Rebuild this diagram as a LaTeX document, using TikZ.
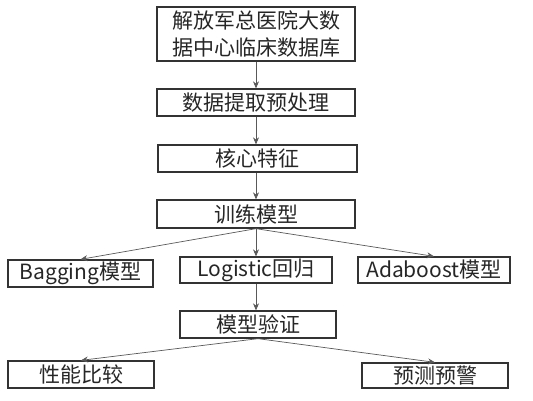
\documentclass[tikz,border=0pt]{standalone}
\usepackage{fontspec}
\setmainfont{Noto Sans CJK SC}
\usetikzlibrary{arrows.meta}

\tikzset{
	stepbox/.style={rectangle, draw=black!80, line width=1.3pt, text centered, inner sep=0pt,
		font=\fontsize{21}{26.5}\selectfont, text=black!85},
	flowarrow/.style={draw=black!65, line width=0.7pt, -{Stealth[length=7pt,width=6pt]}}
}

\begin{document}
\begin{tikzpicture}[x=1pt, y=-1pt]
		
		\useasboundingbox (0,0) rectangle (533,400);
		
		%Main chain
		\node (database) at (256,34) [stepbox, align=center, minimum width=198pt, 
		minimum height=54pt]{解放军总医院大数\\据中心临床数据库};
		\node (preprocess) at (256,102.5) [stepbox, minimum width=198pt, 
		minimum height=27pt]{数据提取预处理};
		\node (features) at (257.5,158.5) [stepbox, minimum width=199pt, 
		minimum height=27pt]{核心特征};
		\node (training) at (256,214) [stepbox, minimum width=198pt, 
		minimum height=28pt]{训练模型};
		
		%Three models
		\node (bagging) at (80.5,273.5) [stepbox, minimum width=145pt, 
		minimum height=27pt]{Bagging模型};
		\node (logistic) at (256,270) [stepbox, minimum width=152pt, 
		minimum height=26pt]{Logistic回归};
		\node (adaboost) at (434,270) [stepbox, minimum width=152pt, 
		minimum height=26pt]{Adaboost模型};
		
		%Validation and results
		\node (validation) at (258,324.5) [stepbox, minimum width=156pt, 
		minimum height=27pt]{模型验证};
		\node (compare) at (81,374.5) [stepbox, minimum width=146pt, 
		minimum height=27pt]{性能比较};
		\node (warning) at (435,375.5) [stepbox, minimum width=146pt, 
		minimum height=25pt]{预测预警};
		
		%Arrows
		\draw[flowarrow] (database) -- (preprocess);
		\draw[flowarrow] (preprocess) -- (features.north -| preprocess);
		\draw[flowarrow] (features.south -| training) -- (training);
		\draw[flowarrow] (training.south) -- (bagging.north);
		\draw[flowarrow] (training) -- (logistic);
		\draw[flowarrow] (training.south) -- (adaboost.north);
		\draw[flowarrow] (logistic) -- (validation.north -| logistic);
		\draw[flowarrow] (validation.south) -- (compare.north);
		\draw[flowarrow] (validation.south) -- (warning.north);
		
\end{tikzpicture}
\end{document}
